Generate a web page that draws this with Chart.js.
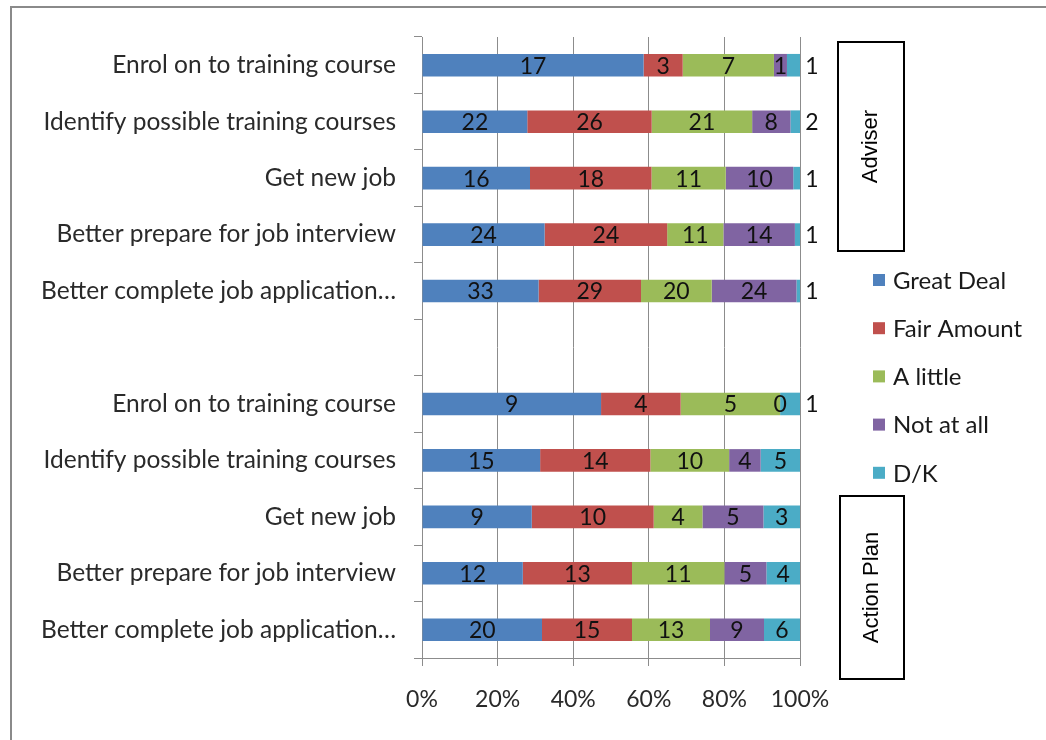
<!DOCTYPE html>
<html>
<head>
<meta charset="utf-8">
<script src="https://cdn.jsdelivr.net/npm/chart.js@4.4.1/dist/chart.umd.min.js"></script>
<style>
  html, body { margin: 0; padding: 0; background: #fff; overflow: hidden; }
  #frame { position: absolute; left: 10px; top: 6px; width: 1100px; height: 800px; border: 2px solid #8a8a8a; }
  #wrap { position: absolute; left: 0; top: 0; width: 1046px; height: 740px; }
</style>
</head>
<body>
<div id="frame"></div>
<div id="wrap"><canvas id="chart"></canvas></div>
<script>
// survey answers, top row first; the empty row splits the two groups
const categories = [
  'Enrol on to training course',
  'Identify possible training courses',
  'Get new job',
  'Better prepare for job interview',
  'Better complete job application…',
  '',
  'Enrol on to training course',
  'Identify possible training courses',
  'Get new job',
  'Better prepare for job interview',
  'Better complete job application…'
];
const seriesNames = ['Great Deal', 'Fair Amount', 'A little', 'Not at all', 'D/K'];
const greatDeal  = [17, 22, 16, 24, 33, null, 9, 15, 9, 12, 20];
const fairAmount = [3, 26, 18, 24, 29, null, 4, 14, 10, 13, 15];
const aLittle    = [7, 21, 11, 11, 20, null, 5, 10, 4, 11, 13];
const notAtAll   = [1, 8, 10, 14, 24, null, 0, 4, 5, 5, 9];
const dontKnow   = [1, 2, 1, 1, 1, null, 1, 5, 3, 4, 6];
const xTicks = [0, 20, 40, 60, 80, 100];
const groupNames = ['Adviser', 'Action Plan'];

const colors = ['#4F81BD', '#C0504D', '#9BBB59', '#8064A2', '#4BACC6'];
const FONT = 'Lato, "Open Sans", sans-serif';
const NUM_SIZE = 23;
const TEXT_SIZE = 24.5;

const counts = [greatDeal, fairAmount, aLittle, notAtAll, dontKnow];
const totals = categories.map((c, i) => counts.reduce((s, arr) => s + (arr[i] || 0), 0));

const datasets = counts.map((arr, k) => ({
  label: seriesNames[k],
  counts: arr,
  data: arr.map((v, i) => v == null ? null : v / totals[i] * 100),
  backgroundColor: colors[k],
  barPercentage: 0.4,
  categoryPercentage: 1
}));

// counts written on each segment; tiny D/K pieces get theirs past the bar end
const valueLabels = {
  id: 'valueLabels',
  afterDatasetsDraw(chart) {
    const ctx = chart.ctx;
    const last = chart.data.datasets.length - 1;
    ctx.save();
    ctx.font = NUM_SIZE + 'px ' + FONT;
    ctx.fillStyle = '#111';
    ctx.textAlign = 'center';
    ctx.textBaseline = 'middle';
    chart.data.datasets.forEach((ds, di) => {
      chart.getDatasetMeta(di).data.forEach((bar, i) => {
        const n = ds.counts[i];
        if (n == null) return;
        const p = bar.getProps(['x', 'y', 'base'], true);
        let cx = (p.x + p.base) / 2;
        if (di === last && p.x - p.base < 22) cx = p.x + 12;
        ctx.fillText(String(n), cx, p.y + 1);
      });
    });
    ctx.restore();
  }
};

// legend column and the two group boxes on the right
const sidePanel = {
  id: 'sidePanel',
  afterDraw(chart) {
    const ctx = chart.ctx;
    const right = chart.chartArea.right;
    ctx.save();
    ctx.font = '24px ' + FONT;
    ctx.textBaseline = 'middle';
    ctx.textAlign = 'left';
    chart.data.datasets.forEach((ds, i) => {
      const y = 280 + i * 48.2;
      ctx.fillStyle = ds.backgroundColor;
      ctx.fillRect(right + 73, y - 6, 12, 12);
      ctx.fillStyle = '#1a1a1a';
      ctx.fillText(ds.label, right + 93, y + 1);
    });

    const boxes = [
      { x: right + 38, y: 42, w: 66, h: 209 },
      { x: right + 40, y: 496, w: 64, h: 183 }
    ];
    ctx.strokeStyle = '#000';
    ctx.lineWidth = 2;
    ctx.font = '22px "Liberation Sans", Arial, sans-serif';
    ctx.textAlign = 'center';
    boxes.forEach((b, i) => {
      ctx.strokeRect(b.x, b.y, b.w, b.h);
      ctx.save();
      ctx.translate(b.x + b.w / 2, b.y + b.h / 2);
      ctx.rotate(-Math.PI / 2);
      ctx.fillStyle = '#000';
      ctx.fillText(groupNames[i], 0, 0);
      ctx.restore();
    });
    ctx.restore();
  }
};

Chart.defaults.font.family = FONT;
Chart.defaults.font.size = NUM_SIZE;
Chart.defaults.color = '#2a2a2a';

new Chart(document.getElementById('chart'), {
  type: 'bar',
  data: { labels: categories, datasets: datasets },
  options: {
    indexAxis: 'y',
    responsive: true,
    maintainAspectRatio: false,
    animation: false,
    layout: { padding: { top: 37, right: 246, left: 0, bottom: 0 } },
    plugins: { legend: { display: false }, tooltip: { enabled: false } },
    scales: {
      x: {
        stacked: true,
        min: 0,
        max: 100,
        afterBuildTicks(scale) { scale.ticks = xTicks.map(v => ({ value: v })); },
        ticks: { padding: 20, callback: v => v + '%' },
        grid: { color: '#8c8c8c', tickLength: 8 },
        border: { color: '#8c8c8c' },
        afterFit(scale) { scale.height = 82; }
      },
      y: {
        stacked: true,
        ticks: { autoSkip: false, padding: 18, font: { size: TEXT_SIZE } },
        grid: { drawOnChartArea: false, offset: true, tickLength: 8, color: '#8c8c8c' },
        border: { color: '#8c8c8c' },
        afterFit(scale) { scale.width = 422; }
      }
    }
  },
  plugins: [valueLabels, sidePanel]
});
</script>
</body>
</html>
